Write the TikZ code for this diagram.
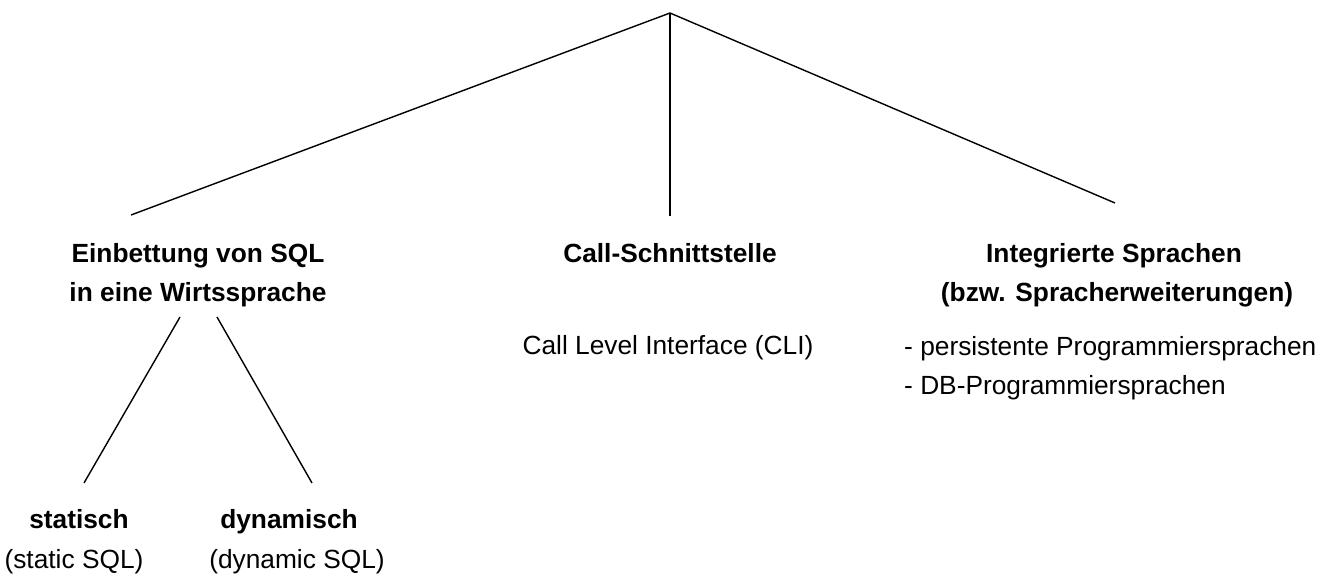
\documentclass[tikz,border=0pt]{standalone}
\usepackage{fontspec}
\setmainfont{Liberation Sans}
\begin{document}
\begin{tikzpicture}[x=1pt,y=-1pt,
  every node/.style={inner sep=0pt, font=\fontsize{26.3}{31}\selectfont},
  head/.style={font=\fontsize{26.3}{31}\selectfont\bfseries, anchor=base},
  plain/.style={anchor=base},
  listitem/.style={anchor=base west},
  branch/.style={line width=1.4pt, line cap=butt}]
\useasboundingbox (0,0) rectangle (1335,581);

% connection points of the tree
\coordinate (root)    at (670,13);
\coordinate (embIn)   at (131,215);
\coordinate (callIn)  at (670,216);
\coordinate (intIn)   at (1115,203);
\coordinate (embOutA) at (180,317);
\coordinate (embOutB) at (217,317);
\coordinate (statIn)  at (84,483);
\coordinate (dynIn)   at (312,483);

% first level
\node[head] (emb1) at (198,262) {Einbettung von SQL};
\node[head] (emb2) at (198,301) {in eine Wirtssprache};
\node[head] (call) at (670,262) {Call-Schnittstelle};
\node[plain] (cli) at (668,354) {Call Level Interface (CLI)};
\node[head] (int1) at (1114,262) {Integrierte Sprachen};
\node[head] (int2) at (1117,301) {(bzw. Spracherweiterungen)};
\node[listitem] (ps1) at (904,355) {- persistente Programmiersprachen};
\node[listitem] (ps2) at (904,394) {- DB-Programmiersprachen};

% second level below the embedding
\node[head] (stat) at (79,528) {statisch};
\node[plain] (statx) at (74,568) {(static SQL)};
\node[head] (dyn) at (289,528) {dynamisch};
\node[plain] (dynx) at (297,568) {(dynamic SQL)};

% branches
\draw[branch] (embIn) -- (root) -- (intIn);
\draw[branch] (root) -- (callIn);
\draw[branch] (embOutA) -- (statIn);
\draw[branch] (embOutB) -- (dynIn);
\end{tikzpicture}
\end{document}
